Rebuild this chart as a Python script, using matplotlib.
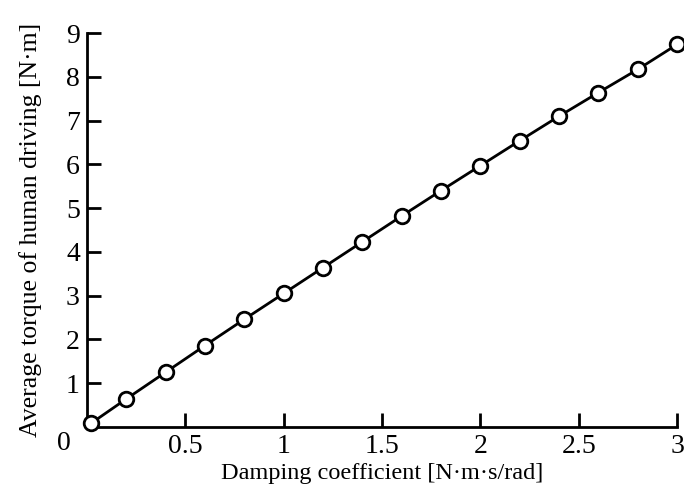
import matplotlib
matplotlib.use("Agg")
import matplotlib.pyplot as plt

damping = [0.02, 0.2, 0.4, 0.6, 0.8, 1.0, 1.2, 1.4, 1.6, 1.8, 2.0, 2.2, 2.4, 2.6, 2.8, 3.0]
torque = [0.08, 0.64, 1.25, 1.86, 2.46, 3.05, 3.64, 4.23, 4.82, 5.40, 5.97, 6.54, 7.10, 7.64, 8.17, 8.74]
xticks = [0.5, 1, 1.5, 2, 2.5, 3]
xticklabels = ["0.5", "1", "1.5", "2", "2.5", "3"]
yticks = [1, 2, 3, 4, 5, 6, 7, 8, 9]
yticklabels = ["1", "2", "3", "4", "5", "6", "7", "8", "9"]

plt.rcParams['font.family'] = ['Liberation Serif', 'DejaVu Serif']

fig = plt.figure(figsize=(6.84, 4.9), dpi=100)
ax = fig.add_axes([0.127, 0.1286, 0.863, 0.804])
ax.plot(damping, torque, color='black', linewidth=2.0, marker='o', markersize=10.5,
        markerfacecolor='white', markeredgecolor='black', markeredgewidth=2.0, clip_on=False, zorder=3)
ax.set_xlim(0, 3)
ax.set_ylim(0, 9)
ax.set_xticks(xticks)
ax.set_xticklabels(xticklabels)
ax.set_yticks(yticks)
ax.set_yticklabels(yticklabels)
for s in ['top', 'right']:
    ax.spines[s].set_visible(False)
for s in ['left', 'bottom']:
    ax.spines[s].set_linewidth(2.0)
ax.tick_params(direction='in', length=10, width=2.0, labelsize=20, pad=5)
ax.text(-0.028, -0.042, "0", transform=ax.transAxes, ha='right', va='center', fontsize=20)
ax.set_xlabel("Damping coefficient [N·m·s/rad]", fontsize=17.5, labelpad=3)
ax.set_ylabel("Average torque of human driving [N·m]", fontsize=18.5, labelpad=17)
fig.savefig("out.png", dpi=100)
